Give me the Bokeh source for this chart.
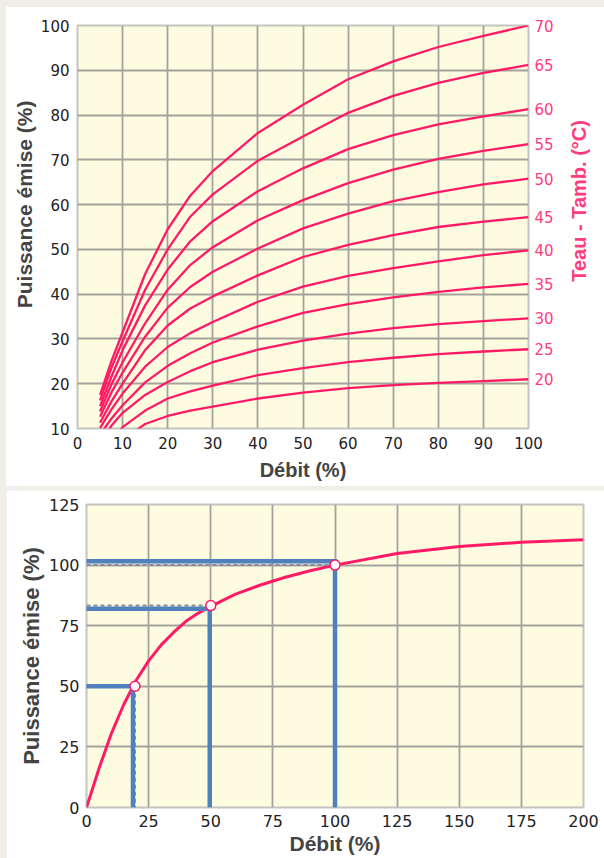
import math
from bokeh.plotting import figure
from bokeh.models import LinearAxis, FixedTicker, Title, Range1d
from bokeh.layouts import column, row
from bokeh.core.properties import value
from bokeh.embed import file_html
from bokeh.resources import INLINE

# ---------------- data: top chart ----------------
flow = [5, 7.5, 10, 15, 20, 25, 30, 40, 50, 60, 70, 80, 90, 100]
delta_t = [70, 65, 60, 55, 50, 45, 40, 35, 30, 25, 20]
p_dt70 = [17.5, 25.0, 31.5, 44.5, 54.5, 62.0, 67.5, 76.0, 82.3, 88.0, 92.0, 95.2, 97.7, 100.0]
p_dt65 = [16.3, 23.5, 29.5, 41.0, 50.0, 57.3, 62.3, 69.8, 75.2, 80.5, 84.3, 87.2, 89.4, 91.2]
p_dt60 = [15.0, 21.5, 27.5, 37.5, 45.5, 51.8, 56.3, 63.0, 68.1, 72.4, 75.5, 77.9, 79.7, 81.3]
p_dt55 = [13.8, 19.8, 24.8, 33.5, 41.0, 46.5, 50.5, 56.5, 61.0, 64.8, 67.8, 70.2, 72.0, 73.5]
p_dt50 = [12.6, 18.0, 22.5, 30.5, 37.0, 41.6, 45.0, 50.2, 54.7, 58.0, 60.8, 62.8, 64.5, 65.8]
p_dt45 = [11.3, 16.0, 20.0, 27.5, 33.0, 36.8, 39.5, 44.2, 48.3, 51.0, 53.2, 55.0, 56.2, 57.2]
p_dt40 = [10.1, 14.2, 17.8, 23.8, 28.2, 31.3, 33.8, 38.3, 41.7, 44.1, 45.8, 47.3, 48.7, 49.8]
p_dt35 = [8.6, 12.2, 15.2, 20.3, 24.0, 26.8, 29.2, 32.8, 35.8, 37.8, 39.3, 40.5, 41.5, 42.3]
p_dt30 = [6.5, 10.6, 13.5, 17.5, 20.4, 22.8, 24.8, 27.6, 29.6, 31.2, 32.4, 33.3, 34.0, 34.6]
p_dt25 = [4.0, 7.5, 10.3, 14.0, 16.7, 18.3, 19.6, 21.9, 23.5, 24.8, 25.8, 26.6, 27.2, 27.7]
p_dt20 = [1.0, 4.5, 7.5, 11.0, 12.8, 14.0, 14.9, 16.7, 18.0, 19.0, 19.7, 20.2, 20.6, 21.0]
curves = [p_dt70, p_dt65, p_dt60, p_dt55, p_dt50, p_dt45, p_dt40, p_dt35, p_dt30, p_dt25, p_dt20]
x1_ticks = [0, 10, 20, 30, 40, 50, 60, 70, 80, 90, 100]
y1_ticks = [10, 20, 30, 40, 50, 60, 70, 80, 90, 100]

# ---------------- data: bottom chart ----------------
flow2 = [0, 5, 10, 15, 20, 25, 30, 35, 40, 45, 50, 60, 70, 80, 90, 100, 125, 150, 175, 200]
power2 = [0, 16.0, 30.5, 42.5, 52.5, 60.5, 67.0, 72.2, 76.8, 80.2, 83.0, 88.0, 91.8, 95.0, 97.7,
          100.0, 104.8, 107.7, 109.4, 110.5]
marker_flow = [19.5, 50, 100]
marker_power = [50, 83.3, 100]
blue_flow = [18.7, 49.6, 100]
blue_power = [50, 82, 101.6]
x2_ticks = [0, 25, 50, 75, 100, 125, 150, 175, 200]
y2_ticks = [0, 25, 50, 75, 100, 125]

PINK = "#ff1a66"
PINK_TXT = "#ff3d7d"
BLUE = "#4f81bd"
BG = "#fefce0"
GRID = "#a3a29c"
TICK_FONT = "DejaVu Sans"
LABEL_FONT = "Liberation Sans"


def style(p, tick_size, standoff):
    p.outline_line_color = "#c4c4c0"
    p.outline_line_width = 2
    for ax in p.xaxis + p.yaxis:
        ax.axis_line_color = None
        ax.major_tick_line_color = None
        ax.minor_tick_line_color = None
        ax.major_tick_out = 0
        ax.major_tick_in = 0
        ax.major_label_text_font = TICK_FONT
        ax.major_label_text_font_size = tick_size
        ax.major_label_text_color = "#222222"
        ax.major_label_standoff = standoff
    for g in p.xgrid + p.ygrid:
        g.grid_line_color = GRID
        g.grid_line_width = 1.8


# ---------------- top figure ----------------
p1 = figure(frame_width=451, frame_height=403, x_range=Range1d(0, 100), y_range=Range1d(10, 100),
            output_backend="svg", toolbar_location=None,
            min_border_left=71, min_border_right=35, min_border_top=18, min_border_bottom=58,
            background_fill_color=BG, border_fill_color="white")
p1.xaxis.ticker = FixedTicker(ticks=x1_ticks)
p1.yaxis.ticker = FixedTicker(ticks=y1_ticks)
p1.xgrid.ticker = FixedTicker(ticks=x1_ticks)
p1.ygrid.ticker = FixedTicker(ticks=y1_ticks)

right = LinearAxis(ticker=FixedTicker(ticks=[c[-1] for c in curves]),
                   major_label_overrides={c[-1]: str(t) for c, t in zip(curves, delta_t)})
p1.add_layout(right, "right")
style(p1, "15px", 8)
right.major_label_text_color = PINK_TXT
right.major_label_standoff = 6

p1.xaxis.axis_label = "Débit (%)"
for ax in p1.xaxis:
    ax.axis_label_text_font = LABEL_FONT
    ax.axis_label_text_font_size = "20px"
    ax.axis_label_text_font_style = "bold"
    ax.axis_label_standoff = 7

p1.add_layout(Title(text="Puissance émise (%)", align="right", offset=75,
                    text_font=LABEL_FONT, text_font_size="21px", text_font_style="bold",
                    standoff=4), "left")

for c in curves:
    p1.line(flow, c, line_color=PINK, line_width=2.3, line_join="round")

# narrow side panel holding the right-hand axis title (reads bottom-to-top)
side = figure(width=41, height=479, x_range=Range1d(0, 1), y_range=Range1d(0, 1),
              x_axis_type=None, y_axis_type=None, output_backend="svg", toolbar_location=None,
              min_border=0, border_fill_color="white", background_fill_color="white",
              outline_line_color=None)
side.grid.visible = False
side.text(x=[0.38], y=[0.364], text=["Teau - Tamb. (°C)"], angle=math.pi / 2,
          text_align="left", text_baseline="middle",
          text_font=value(LABEL_FONT), text_font_size="20px", text_font_style="bold",
          text_color=PINK_TXT)

# ---------------- bottom figure ----------------
p2 = figure(frame_width=497, frame_height=303, x_range=Range1d(0, 200), y_range=Range1d(0, 125),
            output_backend="svg", toolbar_location=None,
            min_border_left=80, min_border_right=21, min_border_top=14, min_border_bottom=51,
            background_fill_color=BG, border_fill_color="white")
p2.xaxis.ticker = FixedTicker(ticks=x2_ticks)
p2.yaxis.ticker = FixedTicker(ticks=y2_ticks)
p2.xgrid.ticker = FixedTicker(ticks=x2_ticks)
p2.ygrid.ticker = FixedTicker(ticks=y2_ticks)
style(p2, "16px", 7)
p2.xaxis.axis_label = "Débit (%)"
p2.xaxis.axis_label_text_font = LABEL_FONT
p2.xaxis.axis_label_text_font_size = "21px"
p2.xaxis.axis_label_text_font_style = "bold"
p2.xaxis.axis_label_standoff = 2
p2.add_layout(Title(text="Puissance émise (%)", align="center",
                    text_font=LABEL_FONT, text_font_size="22px", text_font_style="bold",
                    standoff=4), "left")

p2.line(flow2, power2, line_color=PINK, line_width=3, line_join="round")
p2.multi_line([[0, mx, mx] for mx in marker_flow], [[my, my, 0] for my in marker_power],
              line_color="#8a8aa6", line_width=2, line_dash="4 3")
p2.multi_line([[-3, bx, bx] for bx in blue_flow], [[by, by, 0] for by in blue_power],
              line_color=BLUE, line_width=4.5, line_join="miter")
p2.scatter(marker_flow, marker_power, size=10, fill_color="white", line_color=PINK, line_width=1.5)

top = row(p1, side, styles={"background-color": "white"})
layout = column(top, p2, spacing=4)
html = file_html(layout, INLINE)
html = html.replace("</head>",
                    "<style>html,body{background:#f1eee8 !important;}"
                    "body{padding:7px 0 0 6px !important;}</style></head>", 1)
open("out.html", "w").write(html)
